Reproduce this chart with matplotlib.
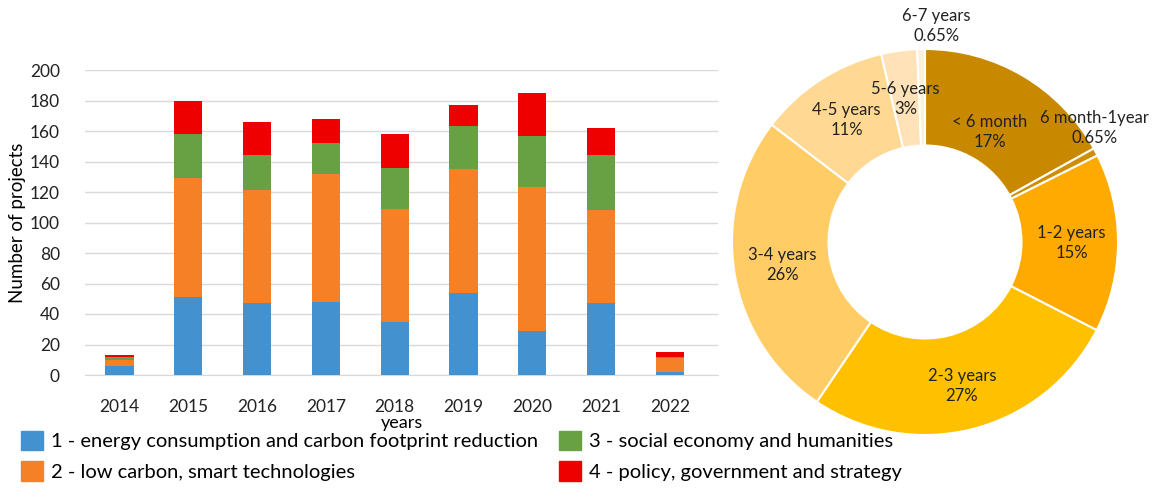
import numpy as np
import matplotlib.pyplot as plt
from matplotlib.patches import Patch

plt.rcParams['font.family'] = ['Lato', 'DejaVu Sans']

# datos de barras
years = ['2014', '2015', '2016', '2017', '2018', '2019', '2020', '2021', '2022']
energy = [6, 51, 47, 48, 35, 54, 29, 47, 2]
low_carbon = [4, 78, 74, 84, 74, 81, 94, 61, 9]
social = [2, 29, 23, 20, 27, 28, 34, 36, 1]
policy = [1, 22, 22, 16, 22, 14, 28, 18, 3]

series_names = ['1 - energy consumption and carbon footprint reduction',
                '2 - low carbon, smart technologies',
                '3 - social economy and humanities',
                '4 - policy, government and strategy']
series_colors = ['#4391CF', '#F58025', '#68A044', '#EE0000']

# datos del donut
durations = ['< 6 month', '6 month-1year', '1-2 years', '2-3 years',
             '3-4 years', '4-5 years', '5-6 years', '6-7 years']
shares = [17, 0.65, 15, 27, 26, 11, 3, 0.65]
share_labels = ['17%', '0.65%', '15%', '27%', '26%', '11%', '3%', '0.65%']
pie_colors = ['#C88800', '#CF8E00', '#FFAA00', '#FFC000',
              '#FFCC66', '#FFD994', '#FFE2B8', '#FFF0DE']

fig = plt.figure(figsize=(11.53, 4.93), dpi=100)

# barras apiladas
ax = fig.add_axes([85 / 1153, 1 - 375 / 493, 633 / 1153, 305 / 493])
x = np.arange(len(years))
bottom = np.zeros(len(years))
for vals, col in zip([energy, low_carbon, social, policy], series_colors):
    ax.bar(x, vals, 0.41, bottom=bottom, color=col, zorder=3)
    bottom += np.array(vals)

ax.set_xlim(-0.5, 8.7)
ax.set_ylim(0, 200)
ax.set_yticks(range(0, 201, 20))
ax.set_xticks(x)
ax.set_xticklabels(years)
ax.tick_params(length=0, labelsize=12.5, colors='#222222')
ax.tick_params(axis='x', pad=17)
ax.tick_params(axis='y', pad=18)
ax.grid(axis='y', color='#D9D9D9', linewidth=1, zorder=0)
for s in ['top', 'right', 'left']:
    ax.spines[s].set_visible(False)
ax.spines['bottom'].set_color('#D9D9D9')
ax.set_ylabel('Number of projects', fontsize=13.5, labelpad=3)
ax.set_xlabel('years', fontsize=13, labelpad=0)

handles = [Patch(color=c) for c in series_colors]
fig.legend(handles, series_names, loc='lower left', bbox_to_anchor=(3 / 1153, -0.012),
           ncol=2, frameon=False, fontsize=14.5, handlelength=1.1, handleheight=1.1,
           handletextpad=0.4, columnspacing=1.0, labelspacing=0.55)

# donut
ax2 = fig.add_axes([(925 - 193) / 1153, (493 - 242 - 193) / 493, 386 / 1153, 386 / 493])
wedges, _ = ax2.pie(shares, colors=pie_colors, startangle=90, counterclock=False,
                    radius=1, wedgeprops=dict(width=0.5, edgecolor='white', linewidth=1.5))
ax2.set_xlim(-1, 1)
ax2.set_ylim(-1, 1)

label_r = [0.66, 1.06, 0.76, 0.77, 0.75, 0.75, 0.75, 1.12]
for w, name, pct, r in zip(wedges, durations, share_labels, label_r):
    ang = np.deg2rad((w.theta1 + w.theta2) / 2)
    if name == '6 month-1year':
        ang = np.deg2rad(34)
    if name == '6-7 years':
        ang = np.deg2rad(87)
    ax2.text(r * np.cos(ang), r * np.sin(ang), name + '\n' + pct, ha='center', va='center',
             fontsize=12, color='#222222', linespacing=1.3)

fig.savefig('out.png', dpi=100)
